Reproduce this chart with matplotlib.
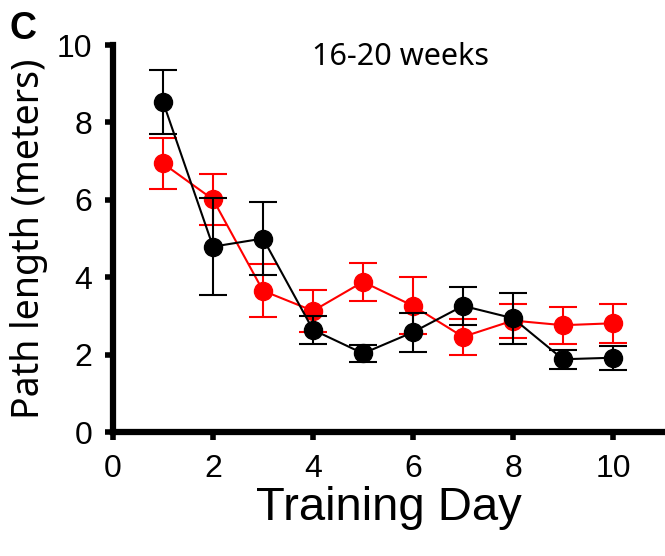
import matplotlib
matplotlib.use("Agg")
import matplotlib.pyplot as plt

days = [1, 2, 3, 4, 5, 6, 7, 8, 9, 10]
black_mean = [8.53, 4.79, 5.00, 2.64, 2.03, 2.58, 3.26, 2.94, 1.88, 1.92]
black_err = [0.82, 1.25, 0.95, 0.37, 0.21, 0.50, 0.50, 0.66, 0.24, 0.31]
red_mean = [6.94, 6.01, 3.65, 3.13, 3.88, 3.26, 2.46, 2.88, 2.76, 2.81]
red_err = [0.67, 0.65, 0.68, 0.54, 0.50, 0.74, 0.46, 0.44, 0.48, 0.50]

fig = plt.figure(figsize=(6.65, 5.56), dpi=100)
ax = fig.add_axes([0.17, 0.223, 0.83, 0.696])

for mean, err, col, z in [(red_mean, red_err, "#ff0000", 2), (black_mean, black_err, "black", 3)]:
    ax.errorbar(days, mean, yerr=err, color=col, marker="o", markersize=13,
                linewidth=1.5, elinewidth=1.5, capsize=10, capthick=1.5, zorder=z)

ax.set_xlim(0, 11.04)
ax.set_ylim(0, 10)
ax.set_xticks([0, 2, 4, 6, 8, 10])
ax.set_yticks([0, 2, 4, 6, 8, 10])

for s in ["top", "right"]:
    ax.spines[s].set_visible(False)
for s in ["left", "bottom"]:
    ax.spines[s].set_linewidth(4.5)
ax.tick_params(width=4, length=6, direction="out")
ax.tick_params(axis="x", pad=10)
ax.tick_params(axis="y", pad=9)

tick_font = ["Liberation Sans", "DejaVu Sans"]
for lab in ax.get_xticklabels() + ax.get_yticklabels():
    lab.set_family(tick_font)
    lab.set_fontsize(23)

ax.set_xlabel("Training Day", family=tick_font, fontsize=34)
ax.xaxis.set_label_coords(0.5, -0.14)
ax.xaxis.label.set_va("top")
ax.set_ylabel("Path length (meters)", family="Noto Sans", fontsize=27)
ax.yaxis.set_label_coords(-0.118, 0.5)
ax.text(0.52, 0.97, "16-20 weeks", transform=ax.transAxes, ha="center", va="center",
        family="Noto Sans", fontsize=22)
fig.text(0.014, 0.948, "C", family="Liberation Sans", fontweight="bold", fontsize=27,
         ha="left", va="center")

fig.savefig("out.png", dpi=100)
